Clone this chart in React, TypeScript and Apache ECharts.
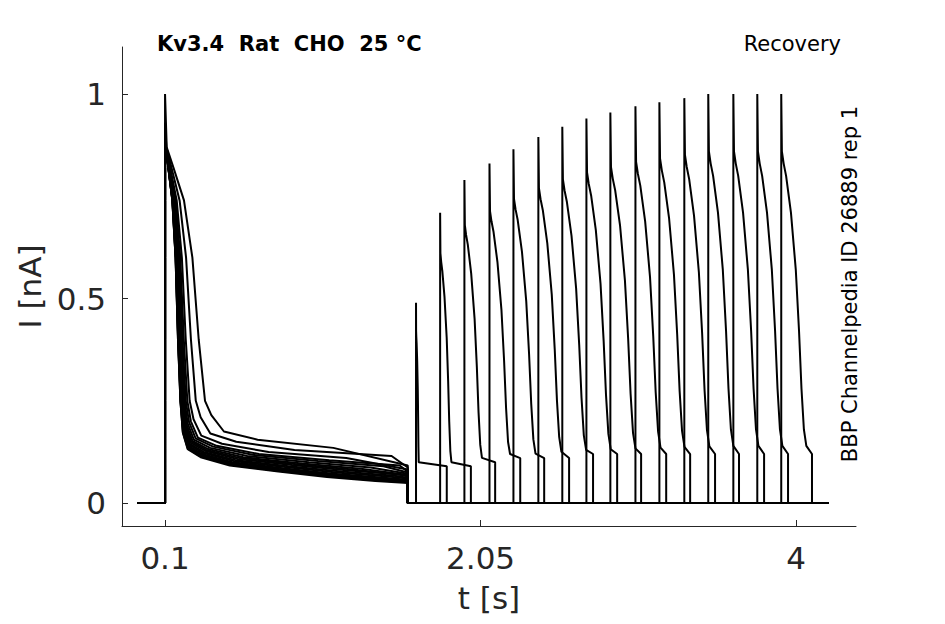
import React, { useEffect, useRef } from "react";
import * as echarts from "echarts";

// holding / step timing (s)
const holdStart = -0.07;
const stepOn = 0.1;
const stepOff = 1.6;
const sweepEnd = 4.2;

// first test step, fastest sweep: [dt from step onset, I]
const stepProfile: [number, number][] = [
  [0, 1], [0.004, 0.87], [0.02, 0.82], [0.045, 0.74], [0.065, 0.6],
  [0.08, 0.4], [0.095, 0.25], [0.11, 0.18], [0.14, 0.14], [0.22, 0.12],
  [0.4, 0.1], [0.7, 0.085], [1.0, 0.072], [1.3, 0.062], [1.5, 0.057],
];
// per-sweep time stretch, peak and tail offset of the first step
const stepStretch = [2.6, 2.0, 1.6, 1.45, 1.35, 1.27, 1.21, 1.16, 1.12, 1.09, 1.06, 1.04, 1.02, 1.01, 1.0, 1.0];
const stepPeak = [1, 0.93, 0.9, 0.88, 0.87, 0.87, 0.86, 0.86, 0.86, 0.86, 0.86, 0.86, 0.86, 0.86, 0.86, 0.86];
const tailOffset = [0.035, 0.03, 0.025, 0.02, 0.018, 0.015, 0.012, 0.01, 0.008, 0.005, 0.003, 0.0, -0.002, -0.004, -0.006, -0.008];

// recovery pulses
const pulseStart = [1.651, 1.8, 1.95, 2.105, 2.253, 2.407, 2.555, 2.704, 2.852, 3.007, 3.155, 3.309, 3.457, 3.612, 3.76, 3.908];
const pulsePeak = [0.49, 0.71, 0.79, 0.83, 0.865, 0.895, 0.92, 0.94, 0.955, 0.97, 0.98, 0.99, 1.0, 1.0, 1.0, 1.0];
const pulseSpeed = [0.12, 0.45, 0.7, 0.82, 0.88, 0.92, 0.95, 0.97, 1.0, 1.0, 1.0, 1.0, 1.0, 1.0, 1.0, 1.0];
const pulseLength = 0.19;
// full-recovery pulse shape: [dt, fraction of peak]
const pulseProfile: [number, number][] = [
  [0, 1], [0.004, 0.86], [0.015, 0.83], [0.03, 0.8], [0.06, 0.71], [0.09, 0.57],
  [0.11, 0.42], [0.125, 0.28], [0.14, 0.18], [0.155, 0.14],
];
const pulseTail = [0.1, 0.1, 0.11, 0.12, 0.12, 0.12, 0.13, 0.13, 0.13, 0.13, 0.13, 0.13, 0.13, 0.13, 0.13, 0.13];

const xTicks = [0.1, 2.05, 4];
const yTicks = [0, 0.5, 1];

function sweep(i: number): number[][] {
  const pts: number[][] = [[holdStart, 0], [stepOn, 0]];
  stepProfile.forEach(([dt, v], k) => {
    const t = stepOn + dt * stepStretch[i];
    if (t >= stepOff) return;
    const val = k === 0 ? stepPeak[i] : v + (dt > 0.1 ? tailOffset[i] : 0);
    pts.push([t, val]);
  });
  pts.push([stepOff, 0.057 + tailOffset[i]], [stepOff, 0], [pulseStart[i], 0]);
  const p0 = pulseStart[i];
  pulseProfile.forEach(([dt, f]) => {
    const v = Math.max(f * pulsePeak[i], pulseTail[i]);
    pts.push([p0 + dt * pulseSpeed[i], v]);
  });
  pts.push([p0 + pulseLength, pulseTail[i] - 0.01], [p0 + pulseLength, 0], [sweepEnd, 0]);
  return pts;
}

const App: React.FC = () => {
  const ref = useRef<HTMLDivElement>(null);
  useEffect(() => {
    const chart = echarts.init(ref.current, null, { renderer: "svg" });
    const labelStyle = { fontSize: 31, color: "#262626", fontFamily: "DejaVu Sans" };
    chart.setOption({
      animation: false,
      grid: { left: 114, top: 39, right: 81, bottom: 90, outerBoundsMode: "none", containLabel: false },
      title: [
        { text: "Kv3.4  Rat  CHO  25 °C", left: 144, top: 20, textStyle: { fontSize: 21, fontWeight: "bold", color: "#000", fontFamily: "DejaVu Sans" } },
        { text: "Recovery", right: 91, top: 20, textStyle: { fontSize: 21, fontWeight: "normal", color: "#000", fontFamily: "DejaVu Sans" } },
      ],
      graphic: [
        { type: "text", x: 842, y: 276, rotation: Math.PI / 2, style: { text: "BBP Channelpedia ID 26889 rep 1", fontSize: 21, fill: "#000", fontFamily: "DejaVu Sans", align: "center", verticalAlign: "middle" } },
      ],
      xAxis: {
        type: "value", min: -0.166, max: 4.37,
        name: "t [s]", nameLocation: "middle", nameGap: 56,
        nameTextStyle: labelStyle,
        axisLine: { onZero: false, lineStyle: { color: "#262626", width: 1 } },
        axisTick: { inside: true, length: 6, customValues: xTicks, lineStyle: { color: "#262626" } },
        axisLabel: { ...labelStyle, margin: 16, customValues: xTicks },
        splitLine: { show: false },
      },
      yAxis: {
        type: "value", min: -0.056, max: 1.115,
        name: "I [nA]", nameLocation: "middle", nameGap: 70, nameRotate: 90,
        nameTextStyle: labelStyle,
        axisLine: { show: true, onZero: false, lineStyle: { color: "#262626", width: 1 } },
        axisTick: { show: true, inside: true, length: 6, customValues: yTicks, lineStyle: { color: "#262626" } },
        axisLabel: { ...labelStyle, margin: 16, customValues: yTicks },
        splitLine: { show: false },
      },
      series: pulseStart.map((_, i) => ({
        type: "line",
        data: sweep(i),
        showSymbol: false,
        lineStyle: { color: "#000", width: 2 },
      })),
    });
    return () => chart.dispose();
  }, []);
  return <div ref={ref} style={{ width: 929, height: 608 }} />;
};

export default App;
